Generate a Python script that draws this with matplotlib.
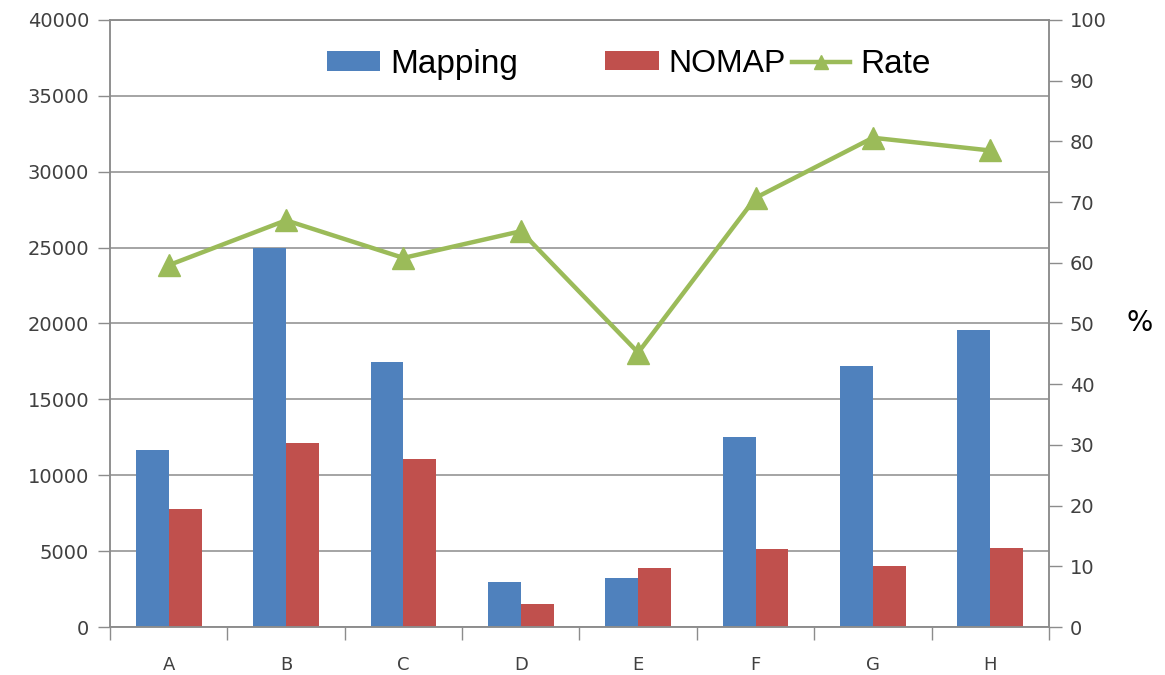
import numpy as np
import matplotlib
matplotlib.use('Agg')
import matplotlib.pyplot as plt

# ==================== data ====================
categories = ['A', 'B', 'C', 'D', 'E', 'F', 'G', 'H']
mapping = [11650, 24950, 17450, 2950, 3230, 12550, 17180, 19570]
nomap = [7800, 12100, 11100, 1530, 3880, 5120, 4050, 5230]
rate = [59.6, 67.0, 60.8, 65.2, 45.2, 70.7, 80.6, 78.5]

BLUE = '#4F81BD'
RED = '#C0504D'
GREEN = '#9BBB59'
GRID = '#8C8C8C'
TXT = '#404040'

fig = plt.figure(figsize=(11.65, 6.75), dpi=100)
ax = fig.add_axes([0.0944, 0.0711, 0.806, 0.8993])
ax2 = ax.twinx()

x = np.arange(len(categories))
w = 0.28
b1 = ax.bar(x - w / 2, mapping, w, color=BLUE, label='Mapping', zorder=2)
b2 = ax.bar(x + w / 2, nomap, w, color=RED, label='NOMAP', zorder=2)
ln, = ax2.plot(x, rate, color=GREEN, linewidth=3.2, marker='^', markersize=16,
               label='Rate', zorder=3)

# ---- left axis ----
ax.set_xlim(-0.5, len(categories) - 0.5)
ax.set_ylim(0, 40000)
ax.set_yticks(np.arange(0, 40001, 5000))
ax.grid(axis='y', color=GRID, linewidth=1.1, zorder=0)
ax.set_axisbelow(True)
ax.tick_params(axis='y', direction='out', length=9, color=GRID, width=1,
               labelsize=14, labelcolor=TXT, pad=6)

# x: labels at centres, tick marks at boundaries
ax.set_xticks(x)
ax.set_xticklabels(categories)
ax.set_xticks(np.arange(-0.5, len(categories)), minor=True)
ax.tick_params(axis='x', which='major', length=0, labelsize=13, labelcolor=TXT, pad=21)
ax.tick_params(axis='x', which='minor', direction='out', length=9, color=GRID, width=1)

# ---- right axis ----
ax2.set_ylim(0, 100)
ax2.set_yticks(np.arange(0, 101, 10))
ax2.tick_params(axis='y', direction='out', length=9, color=GRID, width=1,
                labelsize=14, labelcolor=TXT, pad=6)
ax2.set_ylabel('%', rotation=0, fontsize=20, labelpad=24, va='center')

for a in (ax, ax2):
    for s in ('left', 'right', 'bottom', 'top'):
        a.spines[s].set_color(GRID)
        a.spines[s].set_linewidth(1.1)

# ---- legend (three pieces, spaced like the original) ----
leg_y = 0.905
for handle, label, x0, size, hl in [(b1, 'Mapping', 0.2807, 24, 1.6),
                                    (b2, 'NOMAP', 0.5193, 23, 1.7),
                                    (ln, 'Rate', 0.6798, 24, 1.75)]:
    lg = fig.legend([handle], [label], loc='center left', bbox_to_anchor=(x0, leg_y),
                    frameon=False, borderpad=0, borderaxespad=0, handlelength=hl,
                    handleheight=0.55, handletextpad=0.3,
                    prop={'family': 'Liberation Sans', 'size': size})
    if label == 'Rate':
        lg.legend_handles[0].set_markersize(10)

fig.savefig('out.png', dpi=100, facecolor='white')
